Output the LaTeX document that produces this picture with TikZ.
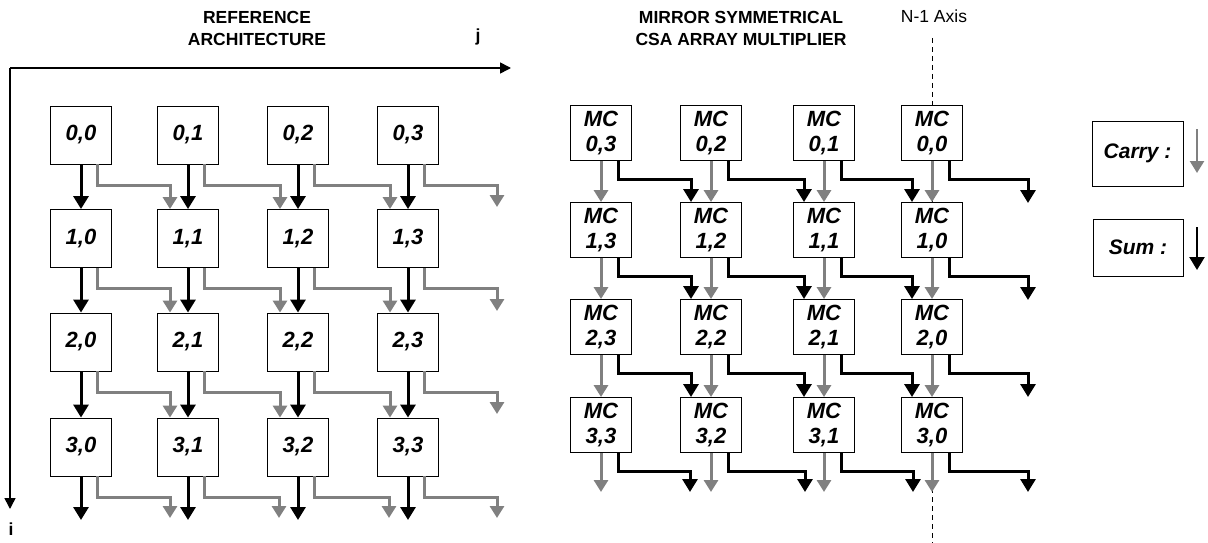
\documentclass[tikz,border=0pt]{standalone}
\usepackage{fontspec}
\setmainfont{Liberation Sans}
\usetikzlibrary{arrows.meta,calc}
\definecolor{carrygray}{gray}{0.5}
\begin{document}
\begin{tikzpicture}[x=1pt,y=-1pt,
  cell/.style={draw=black,line width=0.9pt,fill=white,minimum width=61pt,minimum height=58pt,
    inner sep=0pt,font=\fontsize{22}{25}\selectfont\bfseries\itshape,align=center},
  mcell/.style={cell,minimum height=55pt},
  legendbox/.style={cell,font=\fontsize{21}{24}\selectfont\bfseries\itshape},
  sumarrow/.style={draw=black,line width=3pt,-{Triangle[width=15pt,length=13pt]}},
  carryarrow/.style={draw=carrygray,line width=3pt,-{Triangle[width=14pt,length=12pt]}},
  titletext/.style={font=\fontsize{17.5}{22}\selectfont\bfseries,align=center},
  axisline/.style={draw=black,line width=1.6pt,-{Triangle[width=11pt,length=11pt]}},
  symaxis/.style={draw=black,line width=1pt,dash pattern=on 5pt off 4pt}]
\useasboundingbox (0,0) rectangle (1208,543);

% ---------- titles and axes ----------
\node[titletext] (reftitle) at (257,28) {REFERENCE\\ARCHITECTURE};
\node[titletext] (mirtitle) at (741,28) {MIRROR SYMMETRICAL\\CSA ARRAY MULTIPLIER};
\node[font=\fontsize{17.5}{22}\selectfont] (axlabel) at (934,16) {N-1 Axis};
\node[font=\fontsize{17.5}{22}\selectfont\bfseries] (jlab) at (478,37) {j};
\node[font=\fontsize{17.5}{22}\selectfont\bfseries] (ilab) at (11,529) {i};
\coordinate (origin) at (10,68);
\coordinate (jend) at (511,68);
\coordinate (iend) at (10,509);
\draw[axisline] (origin) -- (jend);
\draw[axisline] (origin) -- (iend);
\coordinate (axtop) at (932,38);
\coordinate (axbot) at (932,543);
\draw[symaxis] (axtop) -- (axbot);

% ---------- left grid ----------
\foreach \r/\y in {0/135,1/238.5,2/342,3/447}{
  \foreach \c/\x in {0/81,1/188,2/298,3/408}{
    \node[cell] (L-\r-\c) at (\x,\y) {\r,\c};
  }
}
% free ends of left grid
\foreach \c/\x in {0/81,1/188,2/298,3/408}{
  \coordinate (LS-\c) at (\x,520);
}
\foreach \c/\x in {0/170,1/279,2/389,3/497}{
  \coordinate (LC-\c) at (\x,518);
}
\foreach \r/\y in {0/207,1/311,2/414}{
  \coordinate (LE-\r) at (497,\y);
}
\foreach \r in {0,1,2}{
  \pgfmathtruncatemacro{\rn}{\r+1}
  \foreach \c in {0,1,2,3}{
    \pgfmathtruncatemacro{\cn}{\c+1}
    \ifnum\c<3
      \draw[carryarrow] ([xshift=16pt]L-\r-\c.south) -- ++(0,21) -| ([xshift=-18pt]L-\rn-\cn.north);
    \else
      \draw[carryarrow] ([xshift=16pt]L-\r-\c.south) -- ++(0,21) -| (LE-\r);
    \fi
    \draw[sumarrow] (L-\r-\c.south) -- (L-\rn-\c.north);
  }
}
\foreach \c in {0,1,2,3}{
  \draw[carryarrow] ([xshift=16pt]L-3-\c.south) -- ++(0,21) -| (LC-\c);
  \draw[sumarrow] (L-3-\c.south) -- (LS-\c);
}

% ---------- right grid ----------
\foreach \r/\y in {0/133,1/230,2/327,3/425}{
  \foreach \c/\x/\l in {0/601/3,1/711/2,2/824/1,3/932/0}{
    \node[mcell] (R-\r-\c) at (\x,\y) {MC\\\r,\l};
  }
}
\foreach \c/\x in {0/601,1/711,2/824,3/932}{
  \coordinate (RC-\c) at (\x,492);
}
\foreach \c/\x in {0/690,1/805,2/913,3/1028}{
  \coordinate (RS-\c) at (\x,492);
}
\foreach \r/\y in {0/203,1/300,2/397}{
  \coordinate (RE-\r) at (1028,\y);
}
\foreach \r in {0,1,2}{
  \pgfmathtruncatemacro{\rn}{\r+1}
  \foreach \c in {0,1,2,3}{
    \pgfmathtruncatemacro{\cn}{\c+1}
    \draw[carryarrow] (R-\r-\c.south) -- (R-\rn-\c.north);
    \ifnum\c<3
      \draw[sumarrow] ([xshift=17pt]R-\r-\c.south) -- ++(0,19) -| ([xshift=-20pt]R-\rn-\cn.north);
    \else
      \draw[sumarrow] ([xshift=17pt]R-\r-\c.south) -- ++(0,19) -| (RE-\r);
    \fi
  }
}
\foreach \c in {0,1,2,3}{
  \draw[carryarrow] (R-3-\c.south) -- (RC-\c);
  \draw[sumarrow] ([xshift=17pt]R-3-\c.south) -- ++(0,19) -| (RS-\c);
}

% ---------- legend ----------
\node[legendbox,minimum width=91pt,minimum height=65pt] (carrybox) at (1137.5,153.5) {Carry :};
\node[legendbox,minimum width=90pt,minimum height=57pt] (sumbox) at (1138,247.5) {Sum :};
\coordinate (ca1) at (1197,129);
\coordinate (ca2) at (1197,173);
\coordinate (sa1) at (1197,227);
\coordinate (sa2) at (1197,270);
\draw[carryarrow,line width=2.4pt] (ca1) -- (ca2);
\draw[sumarrow,line width=2.4pt] (sa1) -- (sa2);
\end{tikzpicture}
\end{document}
